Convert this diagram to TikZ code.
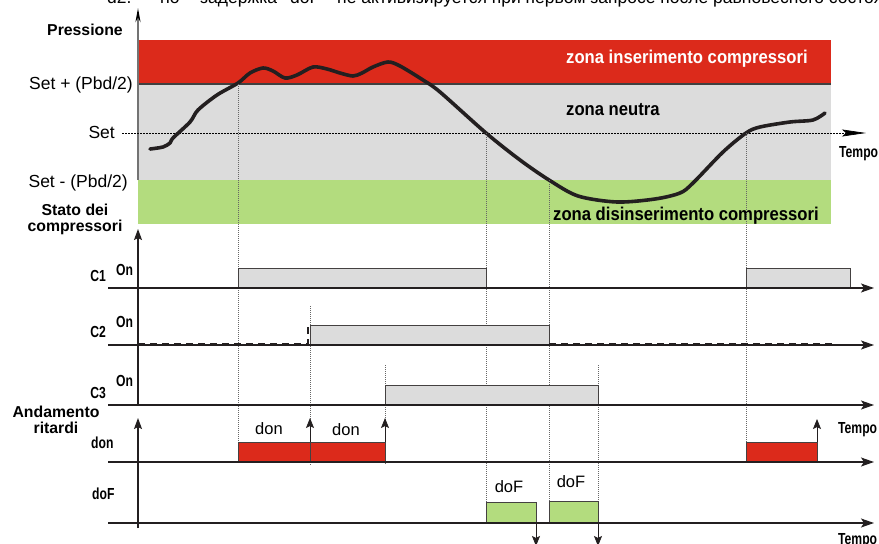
\documentclass[tikz,border=0pt]{standalone}
\usepackage{fontspec}
\setmainfont{Liberation Sans}
\newfontfamily\narrowfont{Liberation Sans}[FakeStretch=0.76]
\newfontfamily\zonefont{Liberation Sans}[FakeStretch=0.9]
\usetikzlibrary{arrows.meta}
\definecolor{zonered}{RGB}{220,42,27}
\definecolor{zonegray}{RGB}{220,220,220}
\definecolor{zonegreen}{RGB}{179,220,126}
\definecolor{ink}{RGB}{35,31,32}
\tikzset{
    lbl/.style={inner sep=0pt,font=\fontsize{17.5}{20}\selectfont},
    hdr/.style={inner sep=0pt,align=center,font=\bfseries\fontsize{15.8}{16.5}\selectfont},
    tag/.style={inner sep=0pt,font=\narrowfont\bfseries\fontsize{16}{18}\selectfont},
    zonelbl/.style={inner sep=0pt,anchor=base west,font=\zonefont\bfseries\fontsize{18.5}{20}\selectfont},
    dly/.style={inner sep=0pt,anchor=base,font=\fontsize{16.5}{18}\selectfont},
    note/.style={inner sep=0pt,anchor=base west,font=\fontsize{17.5}{19}\selectfont},
    timeaxis/.style={line width=1.3pt,draw=ink,-{Stealth[length=13pt,width=9pt,inset=3pt]}},
    vaxis/.style={line width=1.2pt,draw=ink,-{Stealth[length=11pt,width=8pt,inset=2pt]}},
    guide/.style={line width=0.6pt,draw=black!60,dash pattern=on 1pt off 1pt},
    onbox/.style={line width=1pt,draw=ink!85,fill=zonegray},
    donbox/.style={line width=1pt,draw=ink!85,fill=zonered},
    dofbox/.style={line width=1pt,draw=ink!85,fill=zonegreen},
    tick/.style={line width=0.8pt,draw=ink,-{Stealth[length=10pt,width=8pt,inset=2pt]}}
}
\begin{document}
\begin{tikzpicture}[x=1pt,y=-1pt]
    \useasboundingbox (0,0) rectangle (879,544);
    \clip (0,0) rectangle (879,544);
    % cut-off header line
    \node[note] (hd1) at (107,3.5) {d2.};
    \node[note] (hd2) at (160,3.5) {no};
    \node[note] (hd3) at (200,3.5) {задержка};
    \node[note] (hd4) at (290,3.5) {doF};
    \node[note] (hd5) at (337,3.5) {не активизируется при первом запросе после равновесного состояния};
    % pressure zones
    \fill[zonered] (138,40) rectangle (831,84);
    \fill[zonegray] (138,84) rectangle (831,180);
    \fill[zonegreen] (138,180) rectangle (831,224);
    \draw[line width=1.3pt,draw=black!75] (138,84) -- (831,84);
    \draw[line width=2pt,draw=black!55,-{Stealth[length=14pt,width=5pt,black]}] (138,180) -- (138,8);
    \draw[line width=0.7pt,dash pattern=on 1.5pt off 1.5pt,-{Stealth[length=24pt,width=7pt,inset=4pt]}] (122,133) -- (866,133);
    \node[zonelbl,text=white] (zins) at (566,63) {zona inserimento compressori};
    \node[zonelbl] (zneu) at (566,115) {zona neutra};
    \node[zonelbl] (zdis) at (553,220) {zona disinserimento compressori};
    % pressure curve
    \draw[line width=3.6pt,ink,line join=round,line cap=round] plot[smooth,tension=0.5] coordinates {
        (150,149) (163,147) (170,143) (173,138) (190,122) (198,110) (217,95) (238,83)
        (250,73) (263,68) (273,71) (285,78) (297,75) (313,67) (327,69) (340,73)
        (353,76) (362,73) (373,67) (388,62) (400,66) (423,80) (440,92) (486,133)
        (520,160) (549,180) (578,196) (617,202) (655,199) (680,193) (693,183)
        (723,152) (746,133) (760,127) (790,122) (813,120) (825,113)};
    % left labels, top
    \node[hdr,anchor=base] (press) at (85,35) {Pressione};
    \node[lbl,anchor=base east] (setp) at (133,89) {Set + (Pbd/2)};
    \node[lbl,anchor=base east] (set) at (115,138) {Set};
    \node[lbl,anchor=base east] (setm) at (128,187) {Set - (Pbd/2)};
    \node[hdr,anchor=north] (stato) at (75,203.5) {Stato dei\\compressori};
    \node[tag,anchor=base west] (t1) at (839,157) {Tempo};
    % guide lines
    \draw[guide] (238,84) -- (238,463);
    \draw[guide] (486,133) -- (486,523);
    \draw[guide] (549,180) -- (549,523);
    \draw[guide] (746,133) -- (746,462);
    \draw[guide] (310,306) -- (310,465);
    \draw[guide] (385,365) -- (385,465);
    \draw[guide] (598,365) -- (598,523);
    % compressor boxes
    \draw[onbox] (238,268) rectangle (486,288);
    \draw[onbox] (746,268) rectangle (850,288);
    \draw[line width=1.5pt,ink,dash pattern=on 7pt off 5pt] (138,344) -- (308,344) -- (308,325);
    \draw[onbox] (310,325) rectangle (549,345);
    \draw[line width=1.5pt,ink,dash pattern=on 7pt off 5pt] (549,344) -- (835,344);
    \draw[onbox] (385,385) rectangle (598,405);
    % delay boxes
    \draw[donbox] (238,442) rectangle (310,462);
    \draw[donbox] (310,442) rectangle (385,462);
    \draw[donbox] (746,442) rectangle (817,462);
    \draw[dofbox] (486,502) rectangle (536,523);
    \draw[dofbox] (549,501) rectangle (598,523);
    % axes
    \draw[vaxis] (138,405) -- (138,229);
    \draw[vaxis] (138,528) -- (138,418);
    \draw[timeaxis] (108,288) -- (874,288);
    \draw[timeaxis] (108,345) -- (874,345);
    \draw[timeaxis] (108,405) -- (874,405);
    \draw[timeaxis] (108,462) -- (874,462);
    \draw[timeaxis] (108,523) -- (874,523);
    % delay arrows
    \draw[tick] (310,442) -- (310,418);
    \draw[tick] (385,442) -- (385,418);
    \draw[tick] (817,442) -- (817,419);
    \draw[tick] (536,523) -- (536,546);
    \draw[tick] (598,523) -- (598,546);
    % lower labels
    \node[tag,anchor=base east] (c1) at (106,281) {C1};
    \node[tag,anchor=base west] (on1) at (116,275) {On};
    \node[tag,anchor=base east] (c2) at (106,337) {C2};
    \node[tag,anchor=base west] (on2) at (116,327) {On};
    \node[tag,anchor=base east] (c3) at (106,398) {C3};
    \node[tag,anchor=base west] (on3) at (116,386) {On};
    \node[hdr,anchor=north] (andam) at (56,405.5) {Andamento\\ritardi};
    \node[tag,anchor=base west] (dn) at (91,448) {don};
    \node[tag,anchor=base west] (df) at (92,499) {doF};
    \node[dly] (don1) at (269,434) {don};
    \node[dly] (don2) at (346,435) {don};
    \node[dly] (dof1) at (509,492) {doF};
    \node[dly] (dof2) at (571,487) {doF};
    \node[tag,anchor=base west] (t2) at (838,433) {Tempo};
    \node[tag,anchor=base west] (t3) at (838,544) {Tempo};
\end{tikzpicture}
\end{document}
